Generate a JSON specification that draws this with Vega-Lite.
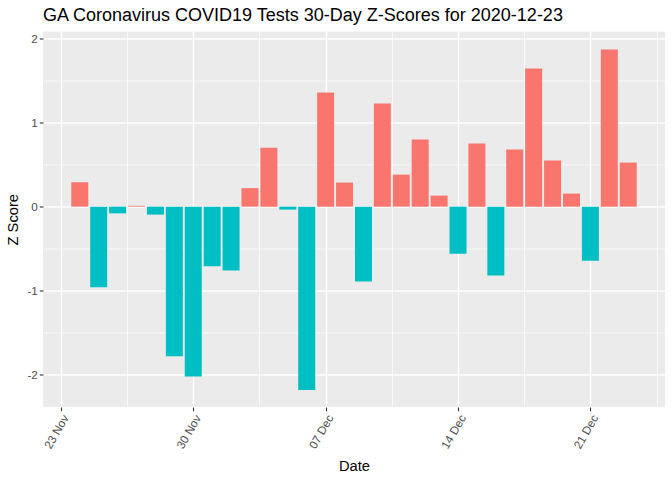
{
  "$schema": "https://vega.github.io/schema/vega-lite/v6.json",
  "width": 622,
  "height": 375.5,
  "autosize": {"type": "none"},
  "padding": {"left": 43, "top": 31.5, "right": 7, "bottom": 73},
  "background": "white",
  "title": {
    "text": "GA Coronavirus COVID19 Tests 30-Day Z-Scores for 2020-12-23",
    "anchor": "start",
    "frame": "group",
    "font": "Liberation Sans",
    "fontSize": 18,
    "fontWeight": "normal",
    "color": "black",
    "offset": 7
  },
  "config": {
    "view": {"fill": "#EBEBEB", "stroke": null},
    "axis": {
      "domain": false,
      "gridColor": "white",
      "tickColor": "#333333",
      "tickSize": 3.7,
      "tickWidth": 1.1,
      "labelColor": "#4D4D4D",
      "labelFont": "Liberation Sans",
      "labelFontSize": 11.7,
      "titleFont": "Liberation Sans",
      "titleFontSize": 14.7,
      "titleFontWeight": "normal",
      "titleColor": "black"
    }
  },
  "data": {
    "values": [
      {"date": "2020-11-24", "z": 0.29},
      {"date": "2020-11-25", "z": -0.96},
      {"date": "2020-11-26", "z": -0.08},
      {"date": "2020-11-27", "z": 0.01},
      {"date": "2020-11-28", "z": -0.095},
      {"date": "2020-11-29", "z": -1.78},
      {"date": "2020-11-30", "z": -2.02},
      {"date": "2020-12-01", "z": -0.71},
      {"date": "2020-12-02", "z": -0.76},
      {"date": "2020-12-03", "z": 0.22},
      {"date": "2020-12-04", "z": 0.70},
      {"date": "2020-12-05", "z": -0.035},
      {"date": "2020-12-06", "z": -2.18},
      {"date": "2020-12-07", "z": 1.357},
      {"date": "2020-12-08", "z": 0.286},
      {"date": "2020-12-09", "z": -0.89},
      {"date": "2020-12-10", "z": 1.226},
      {"date": "2020-12-11", "z": 0.381},
      {"date": "2020-12-12", "z": 0.798},
      {"date": "2020-12-13", "z": 0.131},
      {"date": "2020-12-14", "z": -0.56},
      {"date": "2020-12-15", "z": 0.75},
      {"date": "2020-12-16", "z": -0.82},
      {"date": "2020-12-17", "z": 0.679},
      {"date": "2020-12-18", "z": 1.643},
      {"date": "2020-12-19", "z": 0.548},
      {"date": "2020-12-20", "z": 0.155},
      {"date": "2020-12-21", "z": -0.643},
      {"date": "2020-12-22", "z": 1.869},
      {"date": "2020-12-23", "z": 0.524}
    ]
  },
  "mark": {"type": "bar", "size": 17},
  "encoding": {
    "x": {
      "field": "date",
      "type": "temporal",
      "title": "Date",
      "scale": {
        "type": "utc",
        "padding": 0,
        "domain": [
          {"year": 2020, "month": 11, "date": 22, "hours": 1, "minutes": 19, "utc": true},
          {"year": 2020, "month": 12, "date": 24, "hours": 22, "minutes": 41, "utc": true}
        ]
      },
      "axis": {
        "values": [
          {"year": 2020, "month": 11, "date": 23, "utc": true},
          {"year": 2020, "month": 11, "date": 26, "hours": 12, "utc": true},
          {"year": 2020, "month": 11, "date": 30, "utc": true},
          {"year": 2020, "month": 12, "date": 3, "hours": 12, "utc": true},
          {"year": 2020, "month": 12, "date": 7, "utc": true},
          {"year": 2020, "month": 12, "date": 10, "hours": 12, "utc": true},
          {"year": 2020, "month": 12, "date": 14, "utc": true},
          {"year": 2020, "month": 12, "date": 17, "hours": 12, "utc": true},
          {"year": 2020, "month": 12, "date": 21, "utc": true},
          {"year": 2020, "month": 12, "date": 24, "hours": 12, "utc": true}
        ],
        "labelExpr": "utchours(datum.value) === 0 ? utcFormat(datum.value, '%d %b') : ''",
        "labelAngle": -60,
        "labelAlign": "right",
        "labelBaseline": "top",
        "labelPadding": 2,
        "labelOverlap": false,
        "labelFlush": false,
        "gridWidth": {"condition": {"test": "utchours(datum.value) === 0", "value": 1.4}, "value": 0.7},
        "tickOpacity": {"condition": {"test": "utchours(datum.value) === 0", "value": 1}, "value": 0},
        "titlePadding": 8
      }
    },
    "y": {
      "field": "z",
      "type": "quantitative",
      "title": "Z Score",
      "scale": {"domain": [-2.383, 2.083], "nice": false, "zero": false},
      "axis": {
        "values": [-2, -1.5, -1, -0.5, 0, 0.5, 1, 1.5, 2],
        "labelExpr": "datum.value % 1 === 0 ? '' + datum.value : ''",
        "labelPadding": 2,
        "gridWidth": {"condition": {"test": "datum.value % 1 === 0", "value": 1.4}, "value": 0.7},
        "tickOpacity": {"condition": {"test": "datum.value % 1 === 0", "value": 1}, "value": 0},
        "titlePadding": 6
      }
    },
    "fill": {
      "condition": {"test": "datum.z >= 0", "value": "#F8766D"},
      "value": "#00BFC4"
    }
  }
}
